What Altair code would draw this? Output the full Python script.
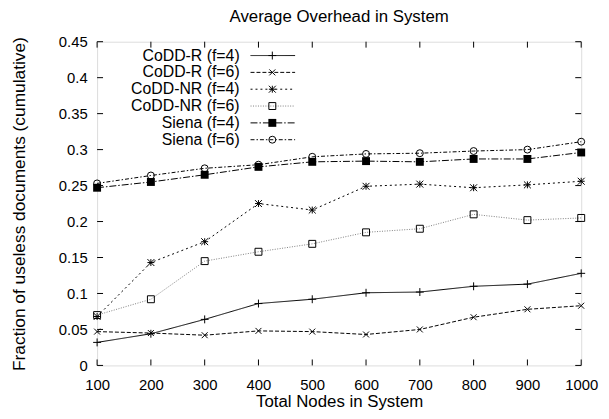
import altair as alt
import pandas as pd

nodes = [100, 200, 300, 400, 500, 600, 700, 800, 900, 1000]
series_names = ["CoDD-R (f=4)", "CoDD-R (f=6)", "CoDD-NR (f=4)", "CoDD-NR (f=6)", "Siena (f=4)", "Siena (f=6)"]
codd_r_f4 = [0.032, 0.044, 0.064, 0.086, 0.092, 0.101, 0.102, 0.110, 0.113, 0.128]
codd_r_f6 = [0.047, 0.045, 0.042, 0.048, 0.047, 0.043, 0.050, 0.067, 0.078, 0.083]
codd_nr_f4 = [0.068, 0.143, 0.172, 0.225, 0.216, 0.249, 0.252, 0.247, 0.251, 0.256]
codd_nr_f6 = [0.070, 0.092, 0.145, 0.158, 0.169, 0.185, 0.190, 0.210, 0.202, 0.205]
siena_f4 = [0.247, 0.255, 0.265, 0.276, 0.283, 0.284, 0.283, 0.287, 0.287, 0.296]
siena_f6 = [0.253, 0.264, 0.274, 0.279, 0.290, 0.294, 0.295, 0.298, 0.300, 0.311]
y_ticks = [0, 0.05, 0.1, 0.15, 0.2, 0.25, 0.3, 0.35, 0.4, 0.45]

values = [codd_r_f4, codd_r_f6, codd_nr_f4, codd_nr_f6, siena_f4, siena_f6]

PLUS = "M-1,0L1,0M0,-1L0,1"
CROSS = "M-1,-1L1,1M-1,1L1,-1"
STAR = "M-1,0L1,0M0,-1L0,1M-1,-1L1,1M-1,1L1,-1"
styles = [
    dict(dash=[1, 0], color="black", shape=PLUS, filled=False, size=64),
    dict(dash=[4, 2], color="black", shape=CROSS, filled=False, size=36),
    dict(dash=[2, 3], color="black", shape=STAR, filled=False, size=49),
    dict(dash=[1, 1.5], color="#808080", shape="square", filled=False, size=49),
    dict(dash=[7, 2, 1.5, 2], color="black", shape="square", filled=True, size=64),
    dict(dash=[4, 2, 1.5, 2], color="black", shape="circle", filled=False, size=49),
]

W, H = 489, 327
FONT = "Liberation Sans"

xscale = alt.Scale(domain=[100, 1000], nice=False, zero=False)
yscale = alt.Scale(domain=[0, 0.45], nice=False)

xaxis = alt.Axis(values=nodes, format="d", ticks=False, tickSize=0, domain=False, grid=False,
                 labelPadding=24, labelBaseline="alphabetic", labelFontSize=15, labelFont=FONT,
                 labelColor="black", labelFlush=False, title="Total Nodes in System",
                 titleFont=FONT, titleFontSize=17, titleFontWeight="normal", titleColor="black",
                 titleY=41, titleBaseline="alphabetic")
yaxis = alt.Axis(values=y_ticks, ticks=False, tickSize=0, domain=False, grid=False,
                 labelPadding=10, labelFontSize=15, labelFont=FONT, labelColor="black",
                 labelFlush=False, labelExpr="datum.value == 0 ? '0' : format(datum.value, '.2~f')",
                 title="Fraction of useless documents (cumulative)", titleFont=FONT,
                 titleFontSize=17.5, titleFontWeight="normal", titleColor="black",
                 titleX=-73, titleBaseline="alphabetic")

X = lambda: alt.X("x:Q", scale=xscale, axis=xaxis)
Y = lambda: alt.Y("y:Q", scale=yscale, axis=yaxis)

layers = []
for i, (name, vals, st) in enumerate(zip(series_names, values, styles)):
    df = pd.DataFrame({"x": nodes, "y": vals, "s": name})
    line = alt.Chart(df).mark_line(color=st["color"], strokeDash=st["dash"], strokeWidth=1).encode(
        x=X(), y=Y())
    pts = alt.Chart(df).mark_point(shape=st["shape"], filled=st["filled"], size=st["size"],
                                   color="black", strokeWidth=1, opacity=1).encode(x=X(), y=Y())
    layers += [line, pts]

    # legend entry
    ly = 14 + 17 * i
    ldf = pd.DataFrame({"label": [name]})
    layers.append(alt.Chart(ldf).mark_text(align="right", baseline="middle", font=FONT,
                                           fontSize=16, color="black").encode(
        text="label:N", x=alt.value(144), y=alt.value(ly)))
    layers.append(alt.Chart(ldf).mark_rule(color=st["color"], strokeDash=st["dash"], strokeWidth=1).encode(
        x=alt.value(155), x2=alt.value(200), y=alt.value(ly)))
    layers.append(alt.Chart(ldf).mark_point(shape=st["shape"], filled=st["filled"], size=st["size"],
                                            color="black", strokeWidth=1, opacity=1).encode(
        x=alt.value(177), y=alt.value(ly)))

# inward ticks (gnuplot style mirrored)
xt = pd.DataFrame({"x": nodes})
yt = pd.DataFrame({"y": y_ticks})
tick_layers = [
    alt.Chart(xt).mark_rule(color="black", strokeWidth=1).encode(
        x=X(), y=alt.value(H), y2=alt.value(H - 6)),
    alt.Chart(xt).mark_rule(color="black", strokeWidth=1).encode(
        x=X(), y=alt.value(0), y2=alt.value(6)),
    alt.Chart(yt).mark_rule(color="black", strokeWidth=1).encode(
        y=Y(), x=alt.value(0), x2=alt.value(6)),
    alt.Chart(yt).mark_rule(color="black", strokeWidth=1).encode(
        y=Y(), x=alt.value(W - 6), x2=alt.value(W)),
]

chart = alt.layer(*layers, *tick_layers).properties(
    width=W, height=H,
    title=alt.TitleParams("Average Overhead in System", font=FONT, fontSize=17,
                          fontWeight="normal", color="black", offset=9),
    autosize=alt.AutoSizeParams(type="none"),
    padding={"left": 90, "top": 32, "right": 20, "bottom": 44},
).configure_view(stroke="black", strokeWidth=1).configure(background="white")

chart.save("out.html", embed_options={"renderer": "svg", "actions": False})
